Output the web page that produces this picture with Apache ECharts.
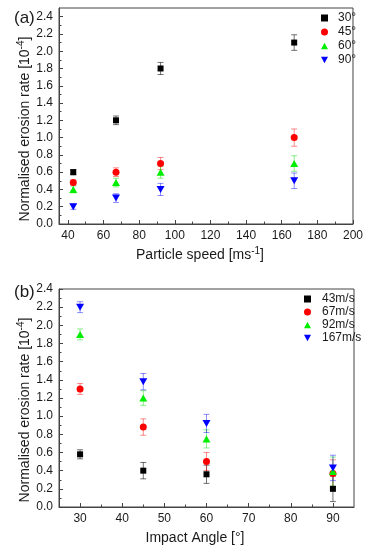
<!DOCTYPE html>
<html><head><meta charset="utf-8">
<script src="https://cdn.jsdelivr.net/npm/echarts@6/dist/echarts.min.js"></script>
<style>html,body{margin:0;padding:0;background:#fff}#c{width:366px;height:550px}</style>
</head><body><div id="c"></div>
<script>
// ---- Data ----
const speeds = [43, 67, 92, 167];
const angles = [30, 45, 60, 90];
const angleNames = ['30°', '45°', '60°', '90°'];
const speedNames = ['43m/s', '67m/s', '92m/s', '167m/s'];

// Panel (a): erosion rate vs particle speed, one series per impact angle
const rate30 = [0.60, 1.20, 1.80, 2.10];
const err30 = [0.03, 0.05, 0.07, 0.09];
const rate45 = [0.48, 0.60, 0.70, 1.00];
const err45 = [0.03, 0.05, 0.07, 0.10];
const rate60 = [0.40, 0.48, 0.60, 0.70];
const err60 = [0.04, 0.05, 0.07, 0.09];
const rate90 = [0.20, 0.30, 0.40, 0.50];
const err90 = [0.03, 0.05, 0.07, 0.09];

// Panel (b): erosion rate vs impact angle, one series per speed
const rate43 = [0.58, 0.40, 0.36, 0.20];
const err43 = [0.05, 0.09, 0.10, 0.14];
const rate67 = [1.30, 0.88, 0.50, 0.37];
const err67 = [0.06, 0.09, 0.10, 0.15];
const rate92 = [1.90, 1.20, 0.75, 0.39];
const err92 = [0.06, 0.08, 0.10, 0.16];
const rate167 = [2.20, 1.38, 0.92, 0.43];
const err167 = [0.06, 0.09, 0.10, 0.14];

const xTicksA = [40, 60, 80, 100, 120, 140, 160, 180, 200];
const xMinorA = [50, 70, 90, 110, 130, 150, 170, 190];
const xTicksB = [30, 40, 50, 60, 70, 80, 90];
const xMinorB = [35, 45, 55, 65, 75, 85];
const yTicks = [0, 0.2, 0.4, 0.6, 0.8, 1.0, 1.2, 1.4, 1.6, 1.8, 2.0, 2.2, 2.4];
const yMinor = [0.1, 0.3, 0.5, 0.7, 0.9, 1.1, 1.3, 1.5, 1.7, 1.9, 2.1, 2.3];

// ---- Styles ----
const FONT = 'Liberation Sans, Arial, sans-serif';
const colors = ['#000000', '#ff0000', '#00ee00', '#0000ff'];
const errColors = ['rgba(0,0,0,0.55)', 'rgba(255,0,0,0.45)', 'rgba(0,220,0,0.45)', 'rgba(0,0,255,0.45)'];
const symbols = ['rect', 'circle', 'triangle', 'triangle'];
const symSizes = [6, 7, [8, 7], [8, 7]];
const symRot = [0, 0, 0, 180];
const legendIcons = ['rect', 'circle', 'path://M5,0L10,9L0,9Z', 'path://M0,0L10,0L5,9Z'];

function errSeries(name, xs, ys, es, k, xi, yi) {
  const col = errColors[k];
  return {
    name: name, type: 'custom', xAxisIndex: xi, yAxisIndex: yi, z: 1,
    data: xs.map((x, i) => [x, ys[i], es[i]]),
    renderItem: function (params, api) {
      const x = api.value(0), y = api.value(1), e = api.value(2);
      const t = api.coord([x, y + e]), b = api.coord([x, y - e]);
      const hw = 3;
      const st = { stroke: col, lineWidth: 1 };
      return { type: 'group', children: [
        { type: 'line', shape: { x1: t[0], y1: t[1], x2: b[0], y2: b[1] }, style: st },
        { type: 'line', shape: { x1: t[0] - hw, y1: t[1], x2: t[0] + hw, y2: t[1] }, style: st },
        { type: 'line', shape: { x1: b[0] - hw, y1: b[1], x2: b[0] + hw, y2: b[1] }, style: st }
      ]};
    }
  };
}
function ptSeries(name, xs, ys, k, xi, yi) {
  return {
    name: name, type: 'scatter', xAxisIndex: xi, yAxisIndex: yi, z: 3,
    symbol: symbols[k], symbolSize: symSizes[k], symbolRotate: symRot[k],
    itemStyle: { color: colors[k], opacity: 1 },
    data: xs.map((x, i) => [x, ys[i]])
  };
}

const ratesA = [rate30, rate45, rate60, rate90], errsA = [err30, err45, err60, err90];
const ratesB = [rate43, rate67, rate92, rate167], errsB = [err43, err67, err92, err167];
const series = [];
for (let k = 0; k < 4; k++) {
  series.push(errSeries('ea' + k, speeds, ratesA[k], errsA[k], k, 0, 0));
  series.push(ptSeries(angleNames[k], speeds, ratesA[k], k, 0, 0));
  series.push(errSeries('eb' + k, angles, ratesB[k], errsB[k], k, 2, 2));
  series.push(ptSeries(speedNames[k], angles, ratesB[k], k, 2, 2));
}

const lbl = { fontFamily: FONT, fontSize: 12, color: '#1a1a1a' };
function mainX(grid, min, max, ticks) {
  return { type: 'value', gridIndex: grid, min: min, max: max,
    axisLine: { show: true, onZero: false, lineStyle: { color: '#444', width: 1 } },
    axisTick: { show: true, inside: true, length: 4, customValues: ticks, lineStyle: { color: '#444' } },
    axisLabel: Object.assign({ customValues: ticks, margin: 6 }, lbl),
    splitLine: { show: false } };
}
function minorAxis(type, grid, min, max, ticks) {
  return { type: 'value', gridIndex: grid, min: min, max: max, position: type === 'x' ? 'bottom' : 'left',
    axisLine: { show: false },
    axisTick: { show: true, inside: true, length: 2.5, customValues: ticks, lineStyle: { color: '#444' } },
    axisLabel: { show: false }, splitLine: { show: false } };
}
function mainY(grid, min, max) {
  return { type: 'value', gridIndex: grid, min: min, max: max,
    axisLine: { show: true, onZero: false, lineStyle: { color: '#444', width: 1 } },
    axisTick: { show: true, inside: true, length: 4, customValues: yTicks, lineStyle: { color: '#444' } },
    axisLabel: Object.assign({ customValues: yTicks, margin: 6, formatter: v => v.toFixed(1) }, lbl),
    splitLine: { show: false } };
}

const titleStyle = { fontFamily: FONT, fontSize: 14, fill: '#1a1a1a' };
const yTitleRich = {
  text: 'Normalised erosion rate [10{s|-4}]',
  rich: { s: { fontSize: 10, fontFamily: FONT, padding: [0, 0, 7, 0] } }
};
function legendData(names) {
  return names.map((n, k) => ({ name: n, icon: legendIcons[k], itemStyle: { color: colors[k] } }));
}

const option = {
  animation: false,
  backgroundColor: '#fff',
  grid: [
    { left: 59, right: 12, top: 8, height: 216, show: true, borderColor: '#444', borderWidth: 1, backgroundColor: 'transparent' },
    { left: 59, right: 12, top: 289, height: 218, show: true, borderColor: '#444', borderWidth: 1, backgroundColor: 'transparent' }
  ],
  xAxis: [
    mainX(0, 35, 200, xTicksA),
    minorAxis('x', 0, 35, 200, xMinorA),
    mainX(1, 25, 95, xTicksB),
    minorAxis('x', 1, 25, 95, xMinorB)
  ],
  yAxis: [
    mainY(0, 0, 2.5),
    minorAxis('y', 0, 0, 2.5, yMinor),
    mainY(1, 0, 2.4),
    minorAxis('y', 1, 0, 2.4, yMinor)
  ],
  legend: [
    { data: legendData(angleNames), orient: 'vertical', left: 316, top: 7, itemWidth: 7, itemHeight: 7, itemGap: 2,
      textStyle: { fontFamily: FONT, fontSize: 12, color: '#1a1a1a', padding: [0, 0, 0, 5] }, selectedMode: false },
    { data: legendData(speedNames), orient: 'vertical', left: 299, top: 288, itemWidth: 7, itemHeight: 7, itemGap: 1,
      textStyle: { fontFamily: FONT, fontSize: 12, color: '#1a1a1a', padding: [0, 0, 0, 6] }, selectedMode: false }
  ],
  graphic: [
    { type: 'text', left: 14, top: 10, style: { text: '(a)', fontFamily: FONT, fontSize: 17, fill: '#1a1a1a' } },
    { type: 'text', left: 14, top: 284, style: { text: '(b)', fontFamily: FONT, fontSize: 17, fill: '#1a1a1a' } },
    { type: 'text', x: 200, y: 255, style: Object.assign({ text: 'Particle speed [ms{s|-1}]', align: 'center', verticalAlign: 'middle',
        rich: { s: { fontSize: 10, fontFamily: FONT, padding: [0, 0, 7, 0] } } }, titleStyle) },
    { type: 'text', x: 195, y: 538, style: Object.assign({ text: 'Impact Angle [°]', align: 'center', verticalAlign: 'middle' }, titleStyle) },
    { type: 'text', x: 25, y: 129, rotation: Math.PI / 2, style: Object.assign({ align: 'center', verticalAlign: 'middle' }, titleStyle, yTitleRich) },
    { type: 'text', x: 25, y: 410, rotation: Math.PI / 2, style: Object.assign({ align: 'center', verticalAlign: 'middle' }, titleStyle, yTitleRich) }
  ],
  series: series
};
const chart = echarts.init(document.getElementById('c'), null, { renderer: 'canvas' });
chart.setOption(option);
</script>
</body></html>
